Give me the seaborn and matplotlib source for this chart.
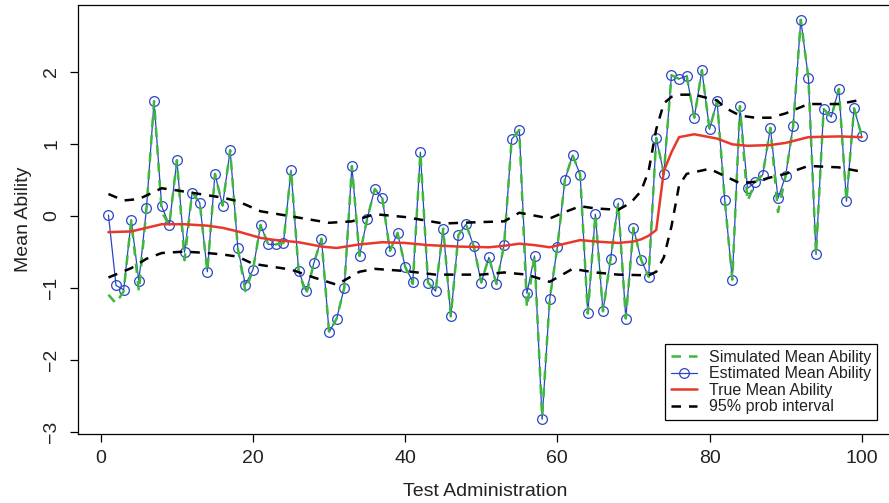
import numpy as np
import pandas as pd
import matplotlib
matplotlib.use("Agg")
import matplotlib.pyplot as plt
import seaborn as sns

# ---- data ----
admin = list(range(1, 101))
estimated = [0.01, -0.97, -1.03, -0.06, -0.91, 0.10, 1.59, 0.13, -0.13, 0.77,
             -0.51, 0.32, 0.18, -0.78, 0.58, 0.14, 0.91, -0.45, -0.96, -0.75,
             -0.13, -0.40, -0.40, -0.38, 0.63, -0.77, -1.05, -0.66, -0.32, -1.62,
             -1.43, -1.00, 0.69, -0.56, -0.05, 0.37, 0.24, -0.49, -0.24, -0.71,
             -0.92, 0.88, -0.93, -1.05, -0.18, -1.40, -0.27, -0.12, -0.42, -0.93,
             -0.58, -0.95, -0.41, 1.06, 1.19, -1.08, -0.56, -2.83, -1.16, -0.44,
             0.50, 0.84, 0.57, -1.36, 0.02, -1.33, -0.60, 0.17, -1.43, -0.17,
             -0.61, -0.85, 1.08, 0.58, 1.95, 1.90, 1.94, 1.36, 2.02, 1.20,
             1.59, 0.22, -0.89, 1.52, 0.38, 0.46, 0.57, 1.22, 0.24, 0.55,
             1.25, 2.72, 1.91, -0.54, 1.48, 1.37, 1.76, 0.20, 1.49, 1.11]
simulated = [-1.10, -1.22, -1.05, -0.07, -1.05, 0.10, 1.59, 0.05, -0.13, 0.77,
             -0.62, 0.32, 0.18, -0.78, 0.58, 0.14, 0.91, -0.45, -1.05, -0.75,
             -0.13, -0.40, -0.40, -0.38, 0.63, -0.77, -1.10, -0.66, -0.32, -1.62,
             -1.43, -1.00, 0.69, -0.56, -0.05, 0.37, 0.24, -0.49, -0.24, -0.71,
             -0.95, 0.88, -0.93, -1.05, -0.18, -1.40, -0.27, -0.12, -0.42, -0.93,
             -0.58, -0.95, -0.41, 1.06, 1.19, -1.28, -0.56, -2.80, -1.16, -0.44,
             0.50, 0.84, 0.57, -1.36, 0.02, -1.33, -0.60, 0.17, -1.43, -0.17,
             -0.61, -0.85, 1.08, 0.58, 1.95, 1.90, 1.94, 1.36, 2.02, 1.20,
             1.59, 0.22, -0.89, 1.52, 0.20, 0.46, 0.57, 1.22, 0.05, 0.55,
             1.25, 2.72, 1.91, -0.54, 1.48, 1.37, 1.76, 0.20, 1.49, 1.11]

true_x = [1, 4, 6, 8, 11, 14, 16, 18, 21, 23, 26, 29, 31, 34, 37, 40, 43, 47, 51,
          53, 55, 57, 59, 61, 63, 65, 68, 70, 71, 72, 73, 74, 75, 76, 78, 81, 83,
          85, 88, 90, 93, 97, 100]
true_y = [-0.23, -0.22, -0.17, -0.12, -0.12, -0.14, -0.17, -0.22, -0.31, -0.34,
          -0.37, -0.43, -0.45, -0.40, -0.37, -0.38, -0.41, -0.43, -0.44, -0.42,
          -0.39, -0.41, -0.44, -0.39, -0.34, -0.36, -0.38, -0.36, -0.33, -0.28,
          -0.20, 0.62, 0.88, 1.09, 1.13, 1.07, 0.99, 0.97, 0.98, 1.01, 1.09,
          1.10, 1.09]

upper_x = [1, 3, 5, 6, 8, 10, 13, 16, 18, 21, 25, 30, 33, 36, 40, 45, 50, 53, 55,
           57, 59, 61, 63, 65, 68, 69, 70, 71, 72, 73, 74, 75, 76, 78, 81, 82, 84,
           86, 88, 90, 93, 97, 100]
upper_y = [0.30, 0.21, 0.23, 0.28, 0.38, 0.35, 0.30, 0.25, 0.20, 0.06, -0.01,
           -0.10, -0.08, 0.02, -0.02, -0.11, -0.09, -0.08, 0.04, 0.00, -0.04,
           0.05, 0.13, 0.10, 0.08, 0.14, 0.22, 0.34, 0.62, 1.20, 1.56, 1.65,
           1.68, 1.68, 1.60, 1.50, 1.39, 1.36, 1.36, 1.42, 1.55, 1.55, 1.61]

lower_x = [1, 4, 6, 8, 11, 14, 16, 18, 20, 25, 28, 31, 34, 36, 40, 44, 50, 53, 56,
           59, 62, 65, 68, 72, 73, 74, 75, 76, 77, 80, 82, 84, 86, 88, 90, 93, 97,
           100]
lower_y = [-0.86, -0.73, -0.60, -0.52, -0.50, -0.52, -0.54, -0.57, -0.67, -0.75,
           -0.86, -0.96, -0.78, -0.74, -0.77, -0.82, -0.82, -0.79, -0.82, -0.92,
           -0.74, -0.79, -0.82, -0.83, -0.78, -0.58, -0.15, 0.42, 0.58, 0.65,
           0.55, 0.45, 0.47, 0.53, 0.58, 0.69, 0.67, 0.61]

x_ticks = [0, 20, 40, 60, 80, 100]
y_ticks = [-3, -2, -1, 0, 1, 2]

# ---- figure ----
sns.set_theme(style="white")
plt.rcParams['font.family'] = ['Liberation Sans', 'DejaVu Sans']

W, H = 889, 503
fig = plt.figure(figsize=(W / 100, H / 100), dpi=100)
left, right, top, bottom = 78.3, 891.8, 4.7, 433.7
ax = fig.add_axes([left / W, 1 - bottom / H, (right - left) / W, (bottom - top) / H])

df_main = pd.DataFrame({"admin": admin, "estimated": estimated, "simulated": simulated})
df_true = pd.DataFrame({"x": true_x, "y": true_y})
df_up = pd.DataFrame({"x": upper_x, "y": upper_y})
df_lo = pd.DataFrame({"x": lower_x, "y": lower_y})

blue = "#2b45c4"
green = "#3db83d"
red = "#e8372b"
dash = (3.8, 3.2)

sns.lineplot(data=df_main, x="admin", y="estimated", ax=ax, color=blue, lw=0.9,
             marker="o", markersize=7, markerfacecolor="none", markeredgecolor=blue,
             markeredgewidth=0.9, estimator=None, sort=False, label="Estimated Mean Ability", zorder=3)
sns.lineplot(data=df_main, x="admin", y="simulated", ax=ax, color=green, lw=1.8,
             dashes=False, estimator=None, sort=False, label="Simulated Mean Ability", zorder=4)
sns.lineplot(data=df_true, x="x", y="y", ax=ax, color=red, lw=1.8, estimator=None,
             sort=False, label="True Mean Ability", zorder=5)
sns.lineplot(data=df_up, x="x", y="y", ax=ax, color="black", lw=1.8, estimator=None,
             sort=False, label="95% prob interval", zorder=5)
sns.lineplot(data=df_lo, x="x", y="y", ax=ax, color="black", lw=1.8, estimator=None,
             sort=False, zorder=5)

lines = ax.get_lines()
lines[1].set_dashes(dash)
lines[3].set_dashes(dash)
lines[4].set_dashes(dash)

ax.set_xlim(-2.96, 103.96)
ax.set_ylim(-3.03, 2.93)
ax.set_xticks(x_ticks)
ax.set_yticks(y_ticks)
ax.set_yticklabels(["\u22123", "\u22122", "\u22121", "0", "1", "2"])
for lab in ax.get_yticklabels():
    lab.set_rotation(90)
    lab.set_va("center")

ax.tick_params(axis="both", which="major", direction="out", length=6, width=0.9,
               color="black", labelsize=14, labelcolor="#222222", bottom=True, left=True)
ax.tick_params(axis="x", pad=6)
ax.tick_params(axis="y", pad=7)
for s in ax.spines.values():
    s.set_color("black")
    s.set_linewidth(0.9)

ax.set_xlabel("Test Administration", fontsize=14, color="#222222", labelpad=11)
ax.set_ylabel("Mean Ability", fontsize=14, color="#222222", labelpad=8)

handles, labels = ax.get_legend_handles_labels()
order = ["Simulated Mean Ability", "Estimated Mean Ability", "True Mean Ability", "95% prob interval"]
hmap = dict(zip(labels, handles))
leg = ax.legend([hmap[k] for k in order], order, loc="lower right",
                bbox_to_anchor=(0.982, 0.032), borderaxespad=0, fontsize=11.5,
                frameon=True, fancybox=False, edgecolor="black", framealpha=1,
                handlelength=1.6, handletextpad=0.8, labelspacing=0.1, borderpad=0.35)
leg.get_frame().set_linewidth(0.9)
for t in leg.get_texts():
    t.set_color("#222222")

fig.savefig("out.png", dpi=100)
